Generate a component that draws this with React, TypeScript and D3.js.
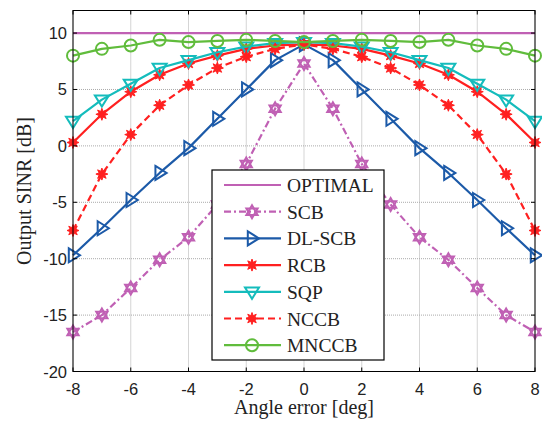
import React, { useEffect, useRef } from 'react';
import * as d3 from 'd3';

const angles = [-8, -7, -6, -5, -4, -3, -2, -1, 0, 1, 2, 3, 4, 5, 6, 7, 8];

const optimal = [10, 10, 10, 10, 10, 10, 10, 10, 10, 10, 10, 10, 10, 10, 10, 10, 10];
const scb = [-16.5, -15, -12.6, -10.1, -8.1, -5.2, -1.6, 3.3, 7.3, 3.3, -1.6, -5.2, -8.1, -10.1, -12.6, -15, -16.5];
const dlscb = [-9.7, -7.3, -4.8, -2.4, -0.2, 2.4, 5.0, 7.6, 9.0, 7.6, 5.0, 2.4, -0.2, -2.4, -4.8, -7.3, -9.7];
const rcb = [0.3, 2.8, 4.8, 6.3, 7.3, 8.0, 8.6, 8.9, 9.0, 8.9, 8.6, 8.0, 7.3, 6.3, 4.8, 2.8, 0.3];
const sqp = [2.2, 4.1, 5.5, 6.9, 7.6, 8.3, 8.8, 9.1, 9.2, 9.1, 8.8, 8.3, 7.6, 6.9, 5.5, 4.1, 2.2];
const nccb = [-7.5, -2.5, 1.0, 3.6, 5.4, 6.9, 7.9, 8.6, 9.0, 8.6, 7.9, 6.9, 5.4, 3.6, 1.0, -2.5, -7.5];
const mnccb = [8.0, 8.6, 8.9, 9.4, 9.2, 9.3, 9.4, 9.3, 9.2, 9.3, 9.4, 9.3, 9.2, 9.4, 8.9, 8.6, 8.0];

const xTicks = [-8, -6, -4, -2, 0, 2, 4, 6, 8];
const yTicks = [-20, -15, -10, -5, 0, 5, 10];

type Series = { name: string; values: number[]; color: string; dash: string | null; marker: string | null };

const series: Series[] = [
  { name: 'OPTIMAL', values: optimal, color: '#c060b4', dash: null, marker: null },
  { name: 'SCB', values: scb, color: '#c060b4', dash: '7,3,2,3', marker: 'hexagram' },
  { name: 'DL-SCB', values: dlscb, color: '#1c5aa8', dash: null, marker: 'tri-right' },
  { name: 'RCB', values: rcb, color: '#ff2020', dash: null, marker: 'star' },
  { name: 'SQP', values: sqp, color: '#14bcbc', dash: null, marker: 'tri-down' },
  { name: 'NCCB', values: nccb, color: '#ff2020', dash: '7,4', marker: 'star' },
  { name: 'MNCCB', values: mnccb, color: '#60bc3c', dash: null, marker: 'circle' },
];

function drawMarker(g: any, type: string, x: number, y: number, color: string) {
  if (type === 'circle') {
    g.append('circle').attr('cx', x).attr('cy', y).attr('r', 6)
      .attr('fill', 'none').attr('stroke', color).attr('stroke-width', 2);
  } else if (type === 'tri-right') {
    const r = 7;
    g.append('path')
      .attr('d', `M${x - r * 0.6},${y - r} L${x + r},${y} L${x - r * 0.6},${y + r} Z`)
      .attr('fill', 'none').attr('stroke', color).attr('stroke-width', 2);
  } else if (type === 'tri-down') {
    const r = 7;
    g.append('path')
      .attr('d', `M${x - r},${y - r * 0.6} L${x + r},${y - r * 0.6} L${x},${y + r} Z`)
      .attr('fill', 'none').attr('stroke', color).attr('stroke-width', 2);
  } else if (type === 'hexagram') {
    const r = 6.5;
    const pts = (off: number) => d3.range(3).map(i => {
      const a = off + (i * 2 * Math.PI) / 3;
      return [x + r * Math.sin(a), y - r * Math.cos(a)];
    });
    [0, Math.PI].forEach(off => {
      g.append('path')
        .attr('d', 'M' + pts(off).map(p => p.join(',')).join('L') + 'Z')
        .attr('fill', 'none').attr('stroke', color).attr('stroke-width', 2);
    });
  } else if (type === 'star') {
    const n = 8;
    const pts = d3.range(n * 2).map(i => {
      const a = (i * Math.PI) / n;
      const rr = i % 2 === 0 ? 6 : 3;
      return [x + rr * Math.sin(a), y - rr * Math.cos(a)];
    });
    g.append('path')
      .attr('d', 'M' + pts.map(p => p.join(',')).join('L') + 'Z')
      .attr('fill', color).attr('stroke', color).attr('stroke-width', 1);
  }
}

export default function App() {
  const svgRef = useRef<SVGSVGElement>(null);

  useEffect(() => {
    const width = 542;
    const height = 423;
    const margin = { left: 73, right: 7, top: 10.5, bottom: 51.5 };

    const svg = d3.select(svgRef.current);
    svg.html('');
    svg.attr('width', width).attr('height', height);

    svg.append('rect').attr('width', width).attr('height', height).attr('fill', '#fff');

    const x = d3.scaleLinear().domain([-8, 8]).range([margin.left, width - margin.right]);
    const y = d3.scaleLinear().domain([-20, 12]).range([height - margin.bottom, margin.top]);
    const [x0, x1] = x.range();
    const [y0, y1] = y.range();

    // grid
    const grid = svg.append('g').attr('stroke', '#aaaaaa').attr('stroke-width', 1).attr('stroke-dasharray', '1,1');
    xTicks.forEach(t => grid.append('line').attr('x1', x(t)).attr('x2', x(t)).attr('y1', y0).attr('y2', y1));
    yTicks.forEach(t => grid.append('line').attr('x1', x0).attr('x2', x1).attr('y1', y(t)).attr('y2', y(t)));

    const plot = svg.append('g');
    series.forEach(s => {
      const line = d3.line<number>().x((_, i) => x(angles[i])).y(d => y(d));
      plot.append('path')
        .attr('d', line(s.values))
        .attr('fill', 'none')
        .attr('stroke', s.color)
        .attr('stroke-width', 2.2)
        .attr('stroke-dasharray', s.dash)
        .attr('stroke-linejoin', 'round');
      if (s.marker) {
        s.values.forEach((v, i) => drawMarker(plot, s.marker as string, x(angles[i]), y(v), s.color));
      }
    });

    // box + ticks
    const axis = svg.append('g').attr('stroke', '#000').attr('stroke-width', 1);
    axis.append('rect').attr('x', x0).attr('y', y1).attr('width', x1 - x0).attr('height', y0 - y1).attr('fill', 'none');
    xTicks.forEach(t => {
      axis.append('line').attr('x1', x(t)).attr('x2', x(t)).attr('y1', y0).attr('y2', y0 - 4);
      axis.append('line').attr('x1', x(t)).attr('x2', x(t)).attr('y1', y1).attr('y2', y1 + 4);
    });
    yTicks.forEach(t => {
      axis.append('line').attr('x1', x0).attr('x2', x0 + 4).attr('y1', y(t)).attr('y2', y(t));
      axis.append('line').attr('x1', x1).attr('x2', x1 - 4).attr('y1', y(t)).attr('y2', y(t));
    });

    const tickFont = '"Liberation Sans", Arial, sans-serif';
    svg.append('g').selectAll('text').data(xTicks).join('text')
      .attr('x', d => x(d)).attr('y', y0 + 23)
      .attr('text-anchor', 'middle').attr('font-family', tickFont).attr('font-size', 16.5).attr('fill', '#222')
      .text(d => d);
    svg.append('g').selectAll('text').data(yTicks).join('text')
      .attr('x', x0 - 6).attr('y', d => y(d) + 6)
      .attr('text-anchor', 'end').attr('font-family', tickFont).attr('font-size', 16.5).attr('fill', '#222')
      .text(d => d);

    const serif = '"Liberation Serif", "Times New Roman", serif';
    svg.append('text').attr('x', (x0 + x1) / 2).attr('y', 414)
      .attr('text-anchor', 'middle').attr('font-family', serif).attr('font-size', 20).attr('fill', '#222')
      .text('Angle error [deg]');
    svg.append('text')
      .attr('transform', `translate(31,${(y0 + y1) / 2}) rotate(-90)`)
      .attr('text-anchor', 'middle').attr('font-family', serif).attr('font-size', 20).attr('fill', '#222')
      .text('Output SINR [dB]');

    // legend
    const lg = svg.append('g');
    lg.append('rect').attr('x', 212).attr('y', 170).attr('width', 172).attr('height', 190)
      .attr('fill', '#fff').attr('stroke', '#000').attr('stroke-width', 1.2);
    series.forEach((s, i) => {
      const ly = 185 + i * 26.7;
      lg.append('line').attr('x1', 224).attr('x2', 281).attr('y1', ly).attr('y2', ly)
        .attr('stroke', s.color).attr('stroke-width', 2.2).attr('stroke-dasharray', s.dash);
      if (s.marker) drawMarker(lg, s.marker, 252, ly, s.color);
      lg.append('text').attr('x', 287).attr('y', ly + 7)
        .attr('font-family', serif).attr('font-size', 19.5).attr('fill', '#222')
        .text(s.name);
    });
  }, []);

  return <svg ref={svgRef} style={{ display: 'block', position: 'absolute', left: 0, top: 0 }} />;
}
